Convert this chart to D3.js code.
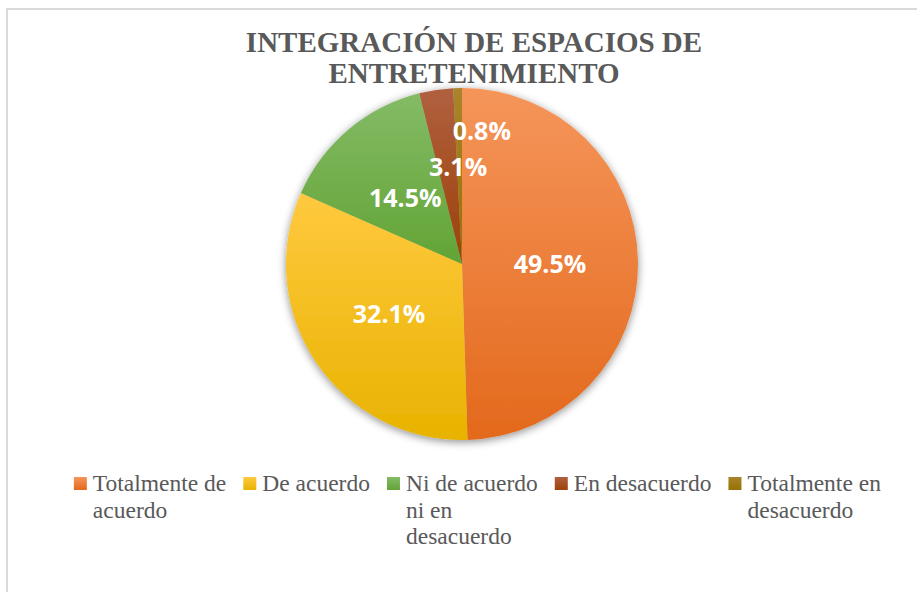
<!DOCTYPE html>
<html>
<head>
<meta charset="utf-8">
<script src="https://cdn.jsdelivr.net/npm/d3@7"></script>
<style>
  html, body { margin: 0; padding: 0; background: #fff; }
</style>
</head>
<body>
<script>
// Data
const categories = ["Totalmente de acuerdo", "De acuerdo", "Ni de acuerdo ni en desacuerdo", "En desacuerdo", "Totalmente en desacuerdo"];
const legendLines = [["Totalmente de", "acuerdo"], ["De acuerdo"], ["Ni de acuerdo", "ni en", "desacuerdo"], ["En desacuerdo"], ["Totalmente en", "desacuerdo"]];
const percents = [49.5, 32.1, 14.5, 3.1, 0.8];
const titleLines = ["INTEGRACIÓN DE ESPACIOS DE", "ENTRETENIMIENTO"];

const width = 917, height = 592;
const cx = 462, cy = 264, radius = 176;

// top / bottom colours of each slice gradient
const colorsTop = ["#F5955A", "#FFC93F", "#84BB66", "#B0603F", "#A9842C"];
const colorsBottom = ["#E3691C", "#E8B300", "#62A435", "#9C420A", "#977100"];
const legendColors = ["#ED7D31", "#FFC000", "#70AD47", "#9E480E", "#997300"];

const svg = d3.select("body").append("svg")
  .attr("width", width)
  .attr("height", height);

const defs = svg.append("defs");

// soft shadow under the pie
const shadow = defs.append("filter")
  .attr("id", "shadow")
  .attr("x", "-20%").attr("y", "-20%")
  .attr("width", "140%").attr("height", "140%");
shadow.append("feDropShadow")
  .attr("dx", 0).attr("dy", 2)
  .attr("stdDeviation", 4)
  .attr("flood-color", "#000")
  .attr("flood-opacity", 0.45);

categories.forEach((c, i) => {
  const g = defs.append("linearGradient")
    .attr("id", "grad" + i)
    .attr("x1", 0).attr("y1", 0).attr("x2", 0).attr("y2", 1);
  g.append("stop").attr("offset", "0%").attr("stop-color", colorsTop[i]);
  g.append("stop").attr("offset", "100%").attr("stop-color", colorsBottom[i]);
});

// chart border
svg.append("rect")
  .attr("x", 7).attr("y", 9)
  .attr("width", 1000).attr("height", 1000)
  .attr("fill", "#fff")
  .attr("stroke", "#d9d9d9")
  .attr("stroke-width", 2);

// title
svg.append("text")
  .attr("x", 474)
  .attr("y", 52)
  .attr("text-anchor", "middle")
  .attr("font-family", "'Liberation Serif', 'Times New Roman', serif")
  .attr("font-weight", "bold")
  .attr("font-size", "29px")
  .attr("fill", "#595959")
  .selectAll("tspan")
  .data(titleLines)
  .enter()
  .append("tspan")
  .attr("x", 474)
  .attr("dy", (d, i) => i === 0 ? 0 : 31)
  .text(d => d);

// pie
const pie = d3.pie().sort(null).value(d => d);
const arcs = pie(percents);
const arc = d3.arc().innerRadius(0).outerRadius(radius);
const labelArc = d3.arc().innerRadius(radius * 0.5).outerRadius(radius * 0.5);

const pieG = svg.append("g")
  .attr("transform", `translate(${cx},${cy})`);

pieG.append("g")
  .attr("filter", "url(#shadow)")
  .selectAll("path")
  .data(arcs)
  .enter()
  .append("path")
  .attr("d", arc)
  .attr("fill", (d, i) => `url(#grad${i})`);

// Excel moved the two thin slice labels to avoid overlap
const labelNudge = [[0, 0], [0, 0], [0, 0], [9, -11], [22, -46]];

pieG.selectAll("text.lbl")
  .data(arcs)
  .enter()
  .append("text")
  .attr("class", "lbl")
  .attr("x", (d, i) => labelArc.centroid(d)[0] + labelNudge[i][0])
  .attr("y", (d, i) => labelArc.centroid(d)[1] + labelNudge[i][1])
  .attr("text-anchor", "middle")
  .attr("dominant-baseline", "central")
  .attr("font-family", "'Open Sans', sans-serif")
  .attr("font-weight", "bold")
  .attr("font-size", "25px")
  .attr("fill", "#fff")
  .text(d => d.data.toFixed(1) + "%");

// legend
const legend = svg.append("g");
const legendFont = "'Liberation Serif', 'Times New Roman', serif";
const items = legend.selectAll("g.item")
  .data(legendLines)
  .enter()
  .append("g")
  .attr("class", "item");

items.append("rect")
  .attr("x", 0).attr("y", -14)
  .attr("width", 13).attr("height", 13)
  .attr("fill", (d, i) => `url(#grad${i})`);

items.append("text")
  .attr("font-family", legendFont)
  .attr("font-size", "23.5px")
  .attr("fill", "#595959")
  .selectAll("tspan")
  .data(d => d)
  .enter()
  .append("tspan")
  .attr("x", 19)
  .attr("y", (d, i) => i * 26.5)
  .text(d => d);

// lay the entries out from measured widths, centred under the chart
let xPos = 0;
const offsets = [];
items.each(function() {
  offsets.push(xPos);
  const w = d3.select(this).select("text").node().getBBox().width;
  xPos += 19 + w + 17;
});
const total = xPos - 17;
const startX = 477.5 - total / 2;
items.attr("transform", (d, i) => `translate(${startX + offsets[i]},491)`);
</script>
</body>
</html>
